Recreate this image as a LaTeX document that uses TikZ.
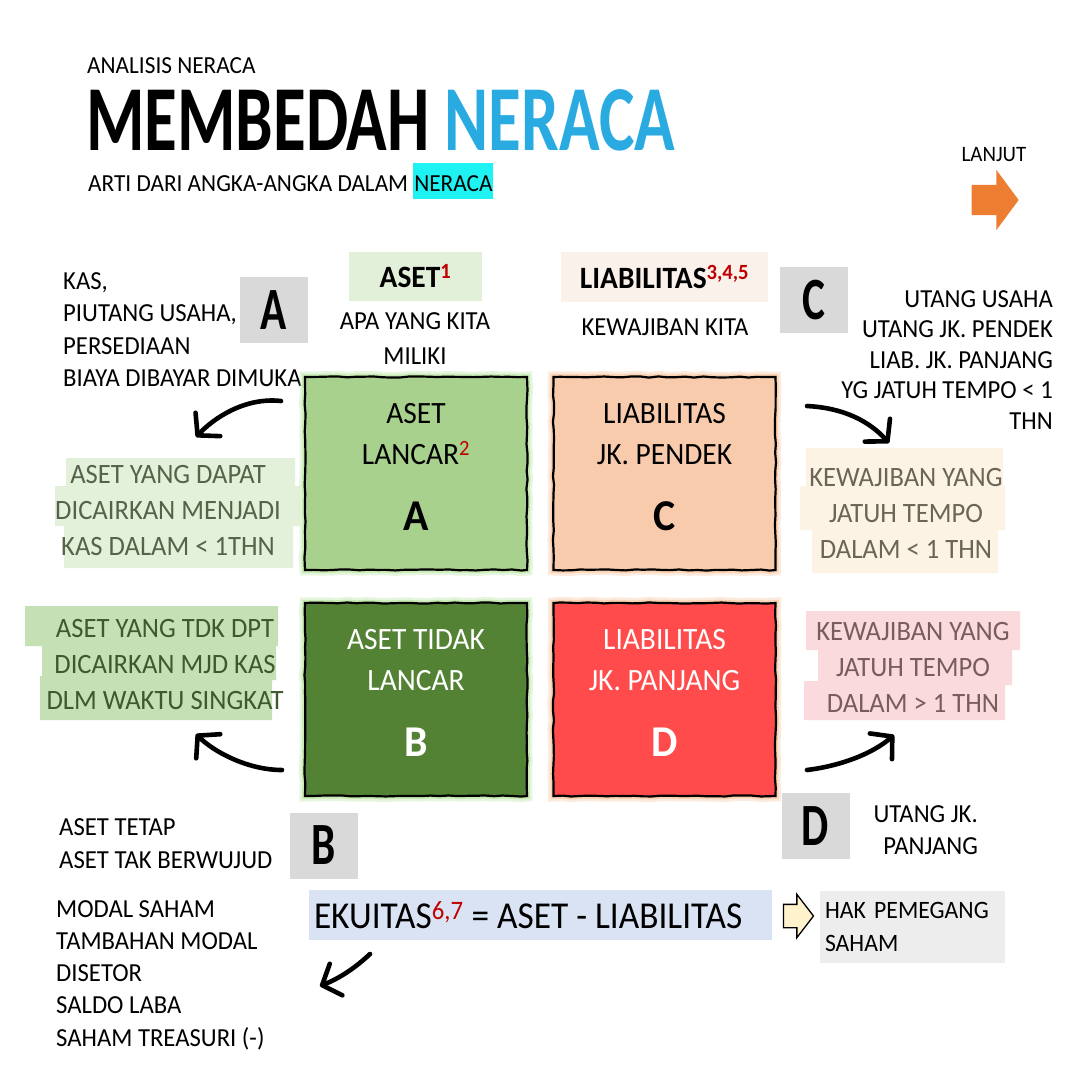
\documentclass[tikz,border=0pt]{standalone}
\usepackage{fontspec}
\setmainfont{Carlito}[FakeStretch=0.95]
\newfontfamily\headfont{Carlito}[FakeStretch=0.72]
\newfontfamily\eqfont{Carlito}[FakeStretch=0.93]
\usetikzlibrary{arrows.meta, positioning, shapes.arrows, decorations.pathmorphing}

\definecolor{nerblue}{HTML}{29ABE2}
\definecolor{hlcyan}{HTML}{1EF2F2}
\definecolor{nextorange}{HTML}{ED7D31}
\definecolor{fnred}{HTML}{C00000}
\definecolor{keybg}{HTML}{D9D9D9}
\definecolor{asetbg}{HTML}{E2F0D9}
\definecolor{liabbg}{HTML}{FBF1EB}
\definecolor{curAset}{HTML}{A9D18E}
\definecolor{fixAset}{HTML}{548235}
\definecolor{curLiab}{HTML}{F8CBAD}
\definecolor{lngLiab}{HTML}{FF4B4B}
\definecolor{glowGreen}{HTML}{C9EBB5}
\definecolor{glowOrange}{HTML}{FAD2B4}
\definecolor{hlA}{HTML}{E4F1DA}
\definecolor{hlB}{HTML}{C5E0B4}
\definecolor{hlC}{HTML}{FDF3E4}
\definecolor{hlD}{HTML}{FADADD}
\definecolor{txtA}{HTML}{56624A}
\definecolor{txtB}{HTML}{3E5A2C}
\definecolor{txtC}{HTML}{6B6558}
\definecolor{txtD}{HTML}{7A5C5E}
\definecolor{eqbg}{HTML}{DAE3F3}
\definecolor{hakbg}{HTML}{EDEDED}
\definecolor{pointfill}{HTML}{FFF2CC}

\newcommand{\fnref}[1]{\textsuperscript{\textcolor{fnred}{#1}}}
\newcommand{\fsz}[2]{\fontsize{#1}{#2}\selectfont}

\begin{document}
\pgfmathsetseed{7}
\begin{tikzpicture}[
  x=1pt,y=-1pt,
  body/.style={inner sep=0pt,font=\fsz{26}{32.5}},
  desc/.style={inner sep=0pt,anchor=north,align=center,font=\fsz{28}{36}},
  key/.style={fill=keybg,minimum width=68,minimum height=66,inner sep=0pt,font=\headfont\bfseries\fsz{60}{60}},
  hdr/.style={inner sep=0pt,font=\bfseries\fsz{31}{31}},
  sq/.style={draw=black,line width=2.2pt,minimum width=222,minimum height=193,inner sep=0pt,
    align=center,text depth=14pt,font=\fsz{31}{41},
    decorate,decoration={random steps,segment length=9pt,amplitude=.6pt}},
  glowg/.style={preaction={draw=glowGreen,line width=11pt,opacity=.45},preaction={draw=glowGreen,line width=6pt}},
  glowo/.style={preaction={draw=glowOrange,line width=11pt,opacity=.45},preaction={draw=glowOrange,line width=6pt}},
  curvearrow/.style={line width=4.6pt,line cap=round,-{Straight Barb[length=15pt,width=34pt,round]}}
]
  \useasboundingbox (0,0) rectangle (1080,1080);
  \fill[white] (0,0) rectangle (1080,1080);

  % title
  \node[anchor=base west,inner sep=0pt,font=\fsz{24.5}{24.5}](kicker) at (87,73) {ANALISIS NERACA};
  \node[anchor=base west,inner sep=0pt,font=\headfont\bfseries\fsz{93}{93}](title) at (86,150) {MEMBEDAH \textcolor{nerblue}{NERACA}};
  \node[anchor=base west,inner sep=0pt,font=\fsz{24.5}{24.5}](subtitle) at (88,191) {ARTI DARI ANGKA-ANGKA DALAM {\setlength{\fboxsep}{0pt}\colorbox{hlcyan}{\rule[-8pt]{0pt}{36pt}\kern1pt NERACA\kern1pt}}};

  \node[anchor=base,inner sep=0pt,font=\fsz{22}{22}](next) at (994,161) {LANJUT};
  \node[single arrow,fill=nextorange,minimum height=47,single arrow head extend=15,single arrow tip angle=107,inner xsep=0pt,inner ysep=15pt](nextArrow) at (989.5,200) {};

  % headers
  \node[hdr,fill=asetbg,minimum width=133,minimum height=49](hdrAset) at (415.5,276.5) {ASET\fnref{1}};
  \node[hdr,fill=liabbg,minimum width=207,minimum height=50](hdrLiab) at (664.5,277) {LIABILITAS\fnref{3,4,5}};
  \node[body,anchor=north,align=center,font=\fsz{26}{35}](hasAset) at (415,312) {APA YANG KITA\\MILIKI};
  \node[body,anchor=base](hasLiab) at (665,335) {KEWAJIBAN KITA};

  % key letters
  \node[key](keyA) at (274,310) {A};
  \node[key](keyC) at (814,300) {C};
  \node[key](keyB) at (323.5,845.5) {B};
  \node[key](keyD) at (815.5,826) {D};

  % lists
  \node[body,anchor=north west,align=left](listA) at (63,272) {KAS,\\PIUTANG USAHA,\\PERSEDIAAN\\BIAYA DIBAYAR DIMUKA};
  \node[body,anchor=north east,align=right,font=\fsz{26}{30.5}](listC) at (1053,290) {UTANG USAHA\\UTANG JK. PENDEK\\LIAB. JK. PANJANG\\YG JATUH TEMPO < 1\\THN};
  \node[body,anchor=north west,align=left,font=\fsz{26}{33}](listB) at (59,818) {ASET TETAP\\ASET TAK BERWUJUD};
  \node[body,anchor=north east,align=right,font=\fsz{26}{32}](listD) at (978,805) {UTANG JK.\\PANJANG};
  \node[body,anchor=north west,align=left,font=\fsz{26}{32.3}](listEq) at (56,900) {MODAL SAHAM\\TAMBAHAN MODAL\\DISETOR\\SALDO LABA\\SAHAM TREASURI (-)};

  % highlighter strokes
  \fill[hlA] (66,458) rectangle (295,490) (55,486) rectangle (300,526) (64,522) rectangle (293,568);
  \fill[hlB] (25,606) rectangle (278,646) (42,642) rectangle (276,680) (40,676) rectangle (272,720);
  \fill[hlC] (806,448) rectangle (1003,490) (800,486) rectangle (1005,530) (812,526) rectangle (998,573);
  \fill[hlD] (806,611) rectangle (1020,650) (818,646) rectangle (1012,685) (804,681) rectangle (1005,720);

  \node[desc,text=txtA](descA) at (168,465) {ASET YANG DAPAT\\DICAIRKAN MENJADI\\KAS DALAM < 1THN};
  \node[desc,text=txtB](descB) at (165,619) {ASET YANG TDK DPT\\DICAIRKAN MJD KAS\\DLM WAKTU SINGKAT};
  \node[desc,text=txtC](descC) at (906,468) {KEWAJIBAN YANG\\JATUH TEMPO\\DALAM < 1 THN};
  \node[desc,text=txtD](descD) at (913,622) {KEWAJIBAN YANG\\JATUH TEMPO\\DALAM > 1 THN};

  % the four blocks
  \node[sq,glowg,fill=curAset](sqA) at (416,473.5) {ASET\\LANCAR\fnref{2}\\[25pt]{\fsz{44}{41}\bfseries A}};
  \node[sq,glowo,fill=curLiab](sqC) at (664.5,473.5) {LIABILITAS\\JK. PENDEK\\[25pt]{\fsz{44}{41}\bfseries C}};
  \node[sq,glowg,fill=fixAset,text=white](sqB) at (416,699.5) {ASET TIDAK\\LANCAR\\[25pt]{\fsz{44}{41}\bfseries B}};
  \node[sq,glowo,fill=lngLiab,text=white](sqD) at (664.5,699.5) {LIABILITAS\\JK. PANJANG\\[25pt]{\fsz{44}{41}\bfseries D}};

  % equity
  \node[fill=eqbg,minimum height=50,inner xsep=5pt,inner ysep=0pt,font=\eqfont\fsz{38}{38}](eq) at (540.5,915) {\makebox[453pt][l]{EKUITAS\fnref{6,7} = ASET - LIABILITAS}};
  \node[single arrow,draw=black,line width=1.3pt,fill=pointfill,minimum height=30,single arrow head extend=10,single arrow tip angle=105,inner xsep=0pt,inner ysep=11pt](eqArrow) at (794,916) {};
  \node[fill=hakbg,minimum height=72,text width=175,align=left,inner xsep=5pt,inner ysep=0pt,font=\fsz{25}{32.5}](hak) at (912.5,927) {HAK PEMEGANG\\SAHAM};

  % hand drawn arrows
  \coordinate (fromA) at (281,401); \coordinate (toA) at (196,437);
  \coordinate (fromC) at (807,406); \coordinate (toC) at (889,443);
  \coordinate (fromB) at (282,770); \coordinate (toB) at (196,734);
  \coordinate (fromD) at (807,770); \coordinate (toD) at (894,735);
  \coordinate (fromEq) at (370,954); \coordinate (toEq) at (320,986);
  \draw[curvearrow](fromA) .. controls (245,397) and (214,418) .. (toA);
  \draw[curvearrow](fromC) .. controls (845,408) and (870,422) .. (toC);
  \draw[curvearrow](fromB) .. controls (248,770) and (214,752) .. (toB);
  \draw[curvearrow](fromD) .. controls (840,766) and (872,754) .. (toD);
  \draw[curvearrow](fromEq) .. controls (355,968) and (340,978) .. (toEq);
\end{tikzpicture}
\end{document}
